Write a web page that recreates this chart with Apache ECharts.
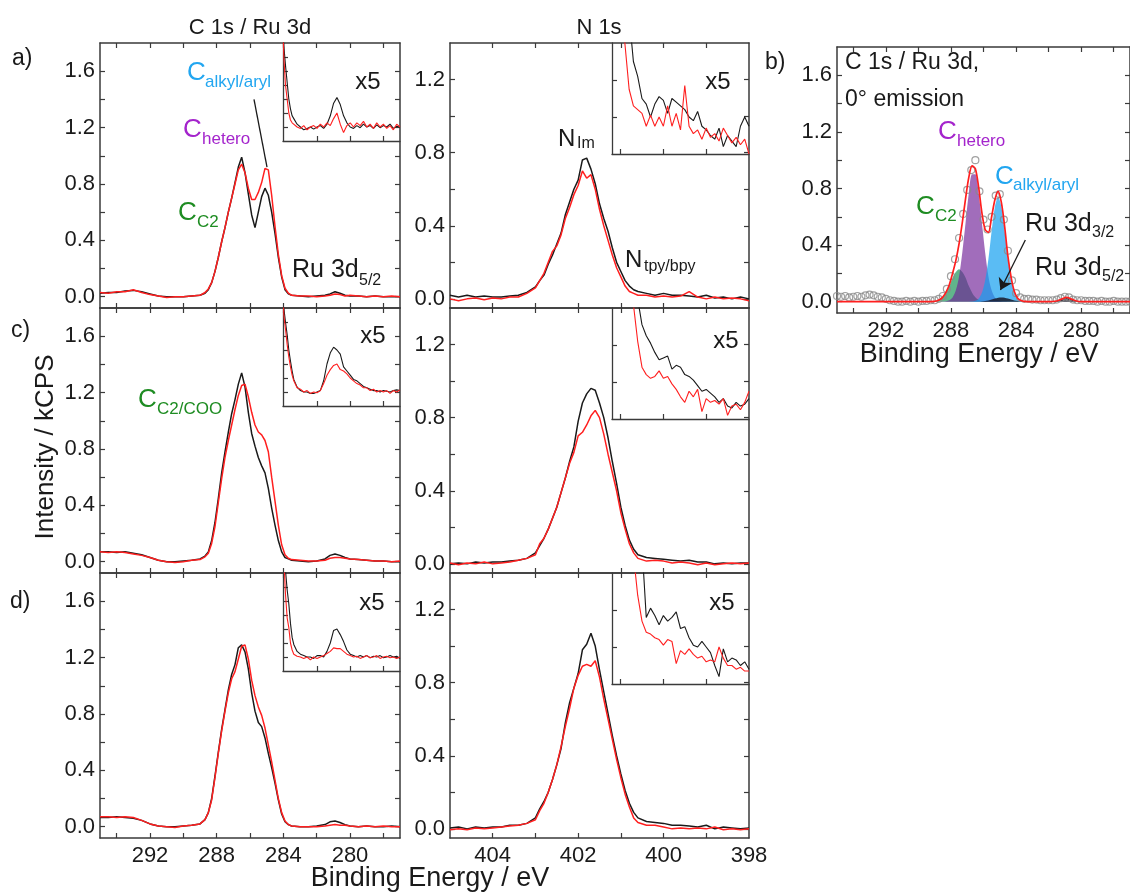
<!DOCTYPE html>
<html>
<head>
<meta charset="utf-8">
<title>XPS C 1s / N 1s</title>
<script src="https://cdn.jsdelivr.net/npm/echarts@6.0.0/dist/echarts.min.js"></script>
<style>
  html, body { margin: 0; padding: 0; background: #fff; }
  #chart { width: 1130px; height: 893px; }
</style>
</head>
<body>
<div id="chart"></div>
<script>
// binding energy grids (eV)
const cE = [295, 294.5, 294, 293.5, 293, 292.5, 292, 291.5, 291, 290.5, 290, 289.5, 289,
  288.9, 288.7, 288.5, 288.3, 288.1, 287.9, 287.7, 287.5, 287.3, 287.1, 286.9, 286.7, 286.5, 286.3,
  286.1, 285.9, 285.7, 285.5, 285.3, 285.1, 284.9, 284.7, 284.5, 284.3, 284.1, 283.9, 283.7, 283.5,
  283, 282.5, 282, 281.5, 281.2, 280.9, 280.6, 280.3, 280, 279.5, 279, 278.5, 278, 277.5, 277]
const nE = [405.0, 404.8, 404.6, 404.4, 404.2, 404.0, 403.8, 403.6, 403.4, 403.2,
  403.0, 402.9, 402.8, 402.7, 402.6, 402.5, 402.4, 402.3, 402.2, 402.1, 402.0, 401.9, 401.8, 401.7,
  401.6, 401.5, 401.4, 401.3, 401.2, 401.1, 401.0, 400.9, 400.8, 400.7, 400.6,
  400.4, 400.2, 400.0, 399.8, 399.6, 399.4, 399.2, 399.0, 398.8, 398.6, 398.4, 398.2, 398.0]
// inset grids (x5 zoom)
const ciE = [284.1, 284.0, 283.9, 283.8, 283.7, 283.6, 283.5, 283.4, 283.2, 283.0, 282.8, 282.6,
  282.4, 282.2, 282.0, 281.8, 281.6, 281.4, 281.2, 281.0, 280.8, 280.6, 280.4, 280.2, 280.0, 279.8,
  279.6, 279.4, 279.2, 279.0, 278.8, 278.6, 278.4, 278.2, 278.0, 277.8, 277.6, 277.4, 277.2, 277.0]
const niE = [401.2, 401.1, 401.0, 400.9, 400.8, 400.7, 400.6, 400.5, 400.4, 400.3, 400.2, 400.1,
  400.0, 399.9, 399.8, 399.7, 399.6, 399.5, 399.4, 399.3, 399.2, 399.1, 399.0, 398.9, 398.8, 398.7,
  398.6, 398.5, 398.4, 398.3, 398.2, 398.1, 398.0]

// C 1s / Ru 3d, kCPS
const aBlackC = [0.025, 0.03, 0.03, 0.04, 0.045, 0.035, 0.02, 0.005, 0.0, 0.0, 0.0, 0.005, 0.01,
  0.015, 0.025, 0.05, 0.10, 0.18, 0.28, 0.39, 0.49, 0.60, 0.70, 0.81, 0.92, 0.99, 0.88, 0.73, 0.58,
  0.49, 0.60, 0.71, 0.77, 0.72, 0.60, 0.45, 0.28, 0.14, 0.05, 0.02, 0.01,
  0.005, 0.0, 0.005, 0.01, 0.02, 0.035, 0.025, 0.01, 0.005, 0.005, 0.0, 0.005, 0.0, 0.0, 0.0]
const aRedC = [0.03, 0.025, 0.035, 0.035, 0.05, 0.03, 0.015, 0.005, -0.005, 0.0, 0.0, 0.005, 0.01,
  0.015, 0.03, 0.055, 0.10, 0.18, 0.28, 0.39, 0.49, 0.60, 0.70, 0.80, 0.90, 0.94, 0.88, 0.77, 0.69,
  0.69, 0.74, 0.81, 0.91, 0.90, 0.72, 0.50, 0.30, 0.15, 0.06, 0.025, 0.01,
  0.005, 0.005, 0.0, 0.005, 0.01, 0.02, 0.015, 0.005, 0.01, 0.005, 0.0, 0.005, 0.0, 0.005, 0.0]
const cBlackC = [0.07, 0.07, 0.065, 0.07, 0.06, 0.05, 0.03, 0.01, 0.0, 0.0, 0.005, 0.01, 0.02,
  0.025, 0.04, 0.07, 0.15, 0.28, 0.45, 0.63, 0.78, 0.92, 1.05, 1.15, 1.26, 1.34, 1.24, 1.06, 0.91,
  0.82, 0.74, 0.68, 0.63, 0.52, 0.38, 0.26, 0.15, 0.07, 0.03, 0.02, 0.01,
  0.005, 0.0, 0.005, 0.02, 0.045, 0.055, 0.045, 0.03, 0.02, 0.015, 0.01, 0.005, 0.005, 0.0, 0.0]
const cRedC = [0.07, 0.065, 0.07, 0.065, 0.055, 0.045, 0.03, 0.01, 0.0, -0.005, 0.0, 0.01, 0.015,
  0.02, 0.035, 0.06, 0.13, 0.25, 0.42, 0.59, 0.74, 0.86, 0.97, 1.08, 1.18, 1.25, 1.26, 1.17, 1.06,
  0.97, 0.92, 0.90, 0.86, 0.78, 0.60, 0.43, 0.26, 0.12, 0.05, 0.025, 0.015,
  0.01, 0.005, 0.005, 0.01, 0.025, 0.03, 0.03, 0.025, 0.02, 0.015, 0.01, 0.005, 0.005, 0.0, 0.005]
const dBlackC = [0.065, 0.065, 0.07, 0.065, 0.06, 0.045, 0.02, 0.005, 0.0, 0.0, 0.005, 0.01, 0.02,
  0.03, 0.05, 0.10, 0.20, 0.36, 0.53, 0.69, 0.83, 0.97, 1.08, 1.15, 1.27, 1.29, 1.24, 1.12, 0.95,
  0.82, 0.74, 0.71, 0.63, 0.52, 0.42, 0.31, 0.19, 0.09, 0.035, 0.015, 0.005,
  0.0, 0.0, 0.005, 0.015, 0.035, 0.04, 0.03, 0.015, 0.005, 0.0, 0.005, 0.0, 0.0, 0.005, 0.0]
const dRedC = [0.07, 0.07, 0.065, 0.07, 0.065, 0.045, 0.02, 0.005, 0.0, -0.005, 0.005, 0.01, 0.02,
  0.03, 0.05, 0.10, 0.19, 0.35, 0.52, 0.68, 0.82, 0.95, 1.05, 1.10, 1.19, 1.28, 1.29, 1.19, 1.04,
  0.93, 0.85, 0.79, 0.70, 0.58, 0.46, 0.33, 0.20, 0.10, 0.04, 0.015, 0.005,
  0.0, 0.0, 0.0, 0.005, 0.01, 0.015, 0.01, 0.01, 0.005, 0.0, 0.005, 0.0, 0.005, 0.0, 0.0]

// N 1s, kCPS
const aBlackN = [0.02, 0.01, 0.02, 0.01, 0.015, 0.01, 0.01, 0.015, 0.02, 0.035,
  0.065, 0.10, 0.13, 0.19, 0.24, 0.30, 0.36, 0.46, 0.53, 0.60, 0.65, 0.76, 0.77, 0.71, 0.63, 0.52,
  0.44, 0.37, 0.28, 0.20, 0.15, 0.10, 0.07, 0.05, 0.04,
  0.03, 0.02, 0.03, 0.02, 0.02, 0.015, 0.01, 0.02, 0.005, 0.01, 0.0, 0.01, 0.0]
const aRedN = [0.0, -0.01, 0.0, 0.005, -0.005, 0.005, 0.0, 0.01, 0.01, 0.03,
  0.06, 0.10, 0.14, 0.20, 0.26, 0.29, 0.35, 0.44, 0.50, 0.57, 0.62, 0.70, 0.66, 0.68, 0.60, 0.49,
  0.40, 0.32, 0.24, 0.17, 0.12, 0.07, 0.04, 0.03, 0.02,
  0.02, 0.01, 0.015, 0.01, 0.015, 0.04, 0.01, 0.0, 0.01, 0.0, 0.005, 0.0, -0.01]
const cBlackN = [0.0, 0.005, 0.0, 0.01, 0.005, 0.01, 0.01, 0.015, 0.02, 0.03,
  0.06, 0.10, 0.14, 0.19, 0.25, 0.31, 0.39, 0.47, 0.56, 0.64, 0.78, 0.88, 0.93, 0.96, 0.95, 0.88,
  0.80, 0.69, 0.56, 0.44, 0.31, 0.21, 0.13, 0.08, 0.05,
  0.035, 0.03, 0.025, 0.02, 0.015, 0.02, 0.01, 0.01, 0.0, 0.005, 0.0, 0.005, 0.005]
const cRedN = [0.005, -0.005, 0.005, 0.0, 0.01, 0.0, 0.005, 0.01, 0.02, 0.03,
  0.05, 0.11, 0.14, 0.19, 0.25, 0.31, 0.39, 0.47, 0.55, 0.61, 0.70, 0.72, 0.76, 0.81, 0.84, 0.80,
  0.71, 0.60, 0.50, 0.40, 0.28, 0.19, 0.11, 0.06, 0.03,
  0.015, 0.02, 0.015, 0.005, 0.01, 0.005, -0.005, 0.005, -0.005, 0.0, 0.005, 0.0, 0.005]
const dBlackN = [0.005, 0.01, 0.0, 0.01, 0.005, 0.01, 0.01, 0.02, 0.02, 0.03,
  0.06, 0.11, 0.15, 0.20, 0.27, 0.35, 0.44, 0.58, 0.69, 0.77, 0.85, 0.98, 1.01, 1.07, 1.00, 0.87,
  0.75, 0.63, 0.51, 0.40, 0.30, 0.21, 0.14, 0.09, 0.06,
  0.04, 0.035, 0.03, 0.02, 0.02, 0.015, 0.01, 0.02, 0.0, 0.01, 0.005, 0.0, 0.005]
const dRedN = [-0.005, 0.0, -0.005, 0.005, 0.0, 0.005, 0.01, 0.015, 0.02, 0.03,
  0.05, 0.10, 0.14, 0.20, 0.27, 0.35, 0.45, 0.56, 0.66, 0.77, 0.84, 0.89, 0.90, 0.89, 0.92, 0.83,
  0.71, 0.60, 0.49, 0.38, 0.28, 0.19, 0.12, 0.06, 0.035,
  0.02, 0.02, 0.01, 0.0, 0.005, 0.0, 0.005, 0.0, 0.01, -0.005, 0.0, -0.005, 0.0]

// insets, x5 units
const aBlackCi = [0.9, 0.58, 0.44, 0.32, 0.2, 0.13, 0.08, 0.06, 0.02, 0.0, -0.02, -0.01, 0.0, -0.015,
  0.0, 0.01, -0.01, 0.02, 0.08, 0.17, 0.21, 0.16, 0.08, 0.03, 0.0, -0.01, 0.01, -0.005, 0.02, 0.0,
  0.01, -0.01, 0.015, -0.005, 0.01, 0.0, 0.02, -0.01, 0.005, 0.0]
const aRedCi = [0.9, 0.5, 0.3, 0.2, 0.1, 0.05, 0.03, 0.02, 0.0, -0.01, 0.01, -0.02, 0.0, 0.01,
  -0.01, 0.02, 0.0, 0.03, 0.01, 0.06, 0.1, 0.02, -0.04, 0.01, 0.03, 0.0, 0.03, 0.01, 0.04, 0.0,
  0.02, -0.01, 0.03, 0.0, 0.02, -0.01, 0.01, -0.02, 0.02, 0.0]
const cBlackCi = [0.9, 0.6, 0.5, 0.41, 0.3, 0.22, 0.15, 0.09, 0.035, 0.01, 0.0, 0.0, -0.01, -0.01,
  0.0, 0.01, 0.08, 0.2, 0.28, 0.32, 0.3, 0.27, 0.18, 0.15, 0.12, 0.09, 0.08, 0.06, 0.04, 0.03,
  0.02, 0.01, 0.01, 0.0, 0.01, 0.005, 0.0, 0.01, 0.015, 0.01]
const cRedCi = [0.9, 0.55, 0.45, 0.34, 0.25, 0.18, 0.12, 0.08, 0.03, 0.02, 0.0, 0.01, -0.01, 0.0,
  -0.005, 0.01, 0.06, 0.12, 0.16, 0.19, 0.2, 0.16, 0.15, 0.13, 0.1, 0.08, 0.06, 0.05, 0.03, 0.03,
  0.01, 0.02, 0.0, 0.01, 0.0, 0.01, -0.01, 0.01, 0.0, 0.015]
const dBlackCi = [0.9, 0.8, 0.62, 0.48, 0.38, 0.24, 0.14, 0.09, 0.04, 0.02, 0.01, 0.0, 0.0, -0.01,
  0.01, 0.01, 0.0, 0.04, 0.1, 0.19, 0.2, 0.16, 0.11, 0.05, 0.02, 0.01, 0.0, 0.01, 0.0, 0.01,
  -0.005, 0.005, 0.0, 0.01, -0.005, 0.0, 0.01, 0.0, 0.005, -0.01]
const dRedCi = [0.9, 0.7, 0.45, 0.28, 0.21, 0.1, 0.05, 0.02, 0.005, 0.0, -0.01, 0.0, -0.02, 0.0,
  -0.01, 0.0, 0.01, 0.025, 0.04, 0.065, 0.06, 0.06, 0.04, 0.02, 0.01, 0.0, 0.005, -0.01, 0.0, 0.01,
  -0.005, 0.0, 0.01, -0.01, 0.0, 0.005, -0.005, 0.0, -0.01, 0.0]
const aBlackNi = [0.9, 0.9, 0.9, 0.9, 0.75, 0.5, 0.42, 0.3, 0.27, 0.2, 0.27, 0.31, 0.29, 0.22, 0.3,
  0.28, 0.26, 0.24, 0.2, 0.18, 0.23, 0.15, 0.13, 0.1, 0.08, 0.14, 0.04, 0.1, 0.07, 0.04, 0.15, 0.2, 0.15]
const aRedNi = [0.9, 0.9, 0.85, 0.6, 0.35, 0.26, 0.24, 0.22, 0.15, 0.21, 0.15, 0.2, 0.15, 0.26, 0.15,
  0.22, 0.13, 0.37, 0.15, 0.11, 0.13, 0.08, 0.14, 0.09, 0.11, 0.07, 0.14, 0.1, 0.06, 0.09, 0.05, 0.08, 0.0]
const cBlackNi = [0.9, 0.9, 0.9, 0.9, 0.9, 0.8, 0.65, 0.51, 0.45, 0.41, 0.36, 0.32, 0.33, 0.34, 0.27,
  0.29, 0.28, 0.24, 0.23, 0.21, 0.18, 0.15, 0.16, 0.14, 0.12, 0.09, 0.11, 0.07, 0.06, 0.09, 0.07, 0.08, 0.11]
const cRedNi = [0.9, 0.9, 0.9, 0.9, 0.75, 0.62, 0.42, 0.28, 0.24, 0.22, 0.23, 0.26, 0.22, 0.23, 0.19,
  0.16, 0.12, 0.09, 0.15, 0.12, 0.16, 0.04, 0.11, 0.09, 0.1, 0.08, 0.11, 0.02, 0.07, 0.08, 0.05, 0.09, 0.15]
const dBlackNi = [0.9, 0.9, 0.9, 0.9, 0.9, 0.9, 0.9, 0.75, 0.36, 0.41, 0.37, 0.32, 0.37, 0.34, 0.36,
  0.39, 0.30, 0.31, 0.25, 0.21, 0.2, 0.23, 0.2, 0.17, 0.1, 0.04, 0.19, 0.12, 0.14, 0.13, 0.1, 0.12, 0.08]
const dRedNi = [0.9, 0.9, 0.9, 0.9, 0.9, 0.7, 0.48, 0.34, 0.28, 0.27, 0.25, 0.24, 0.21, 0.24, 0.23,
  0.11, 0.18, 0.16, 0.19, 0.16, 0.14, 0.15, 0.12, 0.13, 0.12, 0.2, 0.14, 0.1, 0.1, 0.08, 0.09, 0.07, 0.07]

// panel b: 0 deg emission, fit components on cE
const bGreen = [0, 0, 0, 0, 0, 0, 0, 0, 0, 0, 0, 0, 0.002,
  0.005, 0.013, 0.031, 0.064, 0.11, 0.17, 0.21, 0.23, 0.21, 0.17, 0.11, 0.064, 0.031, 0.013, 0.005,
  0.001, 0, 0, 0, 0, 0, 0, 0, 0, 0, 0, 0, 0,
  0, 0, 0, 0, 0, 0, 0, 0, 0, 0, 0, 0, 0, 0, 0]
const bPurple = [0, 0, 0, 0, 0, 0, 0, 0, 0, 0, 0, 0, 0,
  0, 0, 0.001, 0.003, 0.01, 0.03, 0.08, 0.18, 0.35, 0.56, 0.77, 0.90, 0.90, 0.77, 0.56, 0.35,
  0.18, 0.08, 0.03, 0.01, 0.003, 0.001, 0, 0, 0, 0, 0, 0,
  0, 0, 0, 0, 0, 0, 0, 0, 0, 0, 0, 0, 0, 0, 0]
const bBlue = [0, 0, 0, 0, 0, 0, 0, 0, 0, 0, 0, 0, 0,
  0, 0, 0, 0, 0, 0, 0, 0, 0, 0, 0, 0.001, 0.006, 0.021, 0.063, 0.15,
  0.30, 0.50, 0.67, 0.74, 0.67, 0.50, 0.30, 0.15, 0.063, 0.021, 0.006, 0.001,
  0, 0, 0, 0, 0, 0, 0, 0, 0, 0, 0, 0, 0, 0, 0]
const bRu3d = [0, 0, 0, 0, 0, 0, 0, 0, 0, 0, 0, 0, 0,
  0, 0, 0, 0, 0, 0, 0, 0, 0, 0, 0, 0, 0, 0, 0.002, 0.004,
  0.008, 0.015, 0.022, 0.028, 0.03, 0.028, 0.022, 0.015, 0.008, 0.004, 0.002, 0.001,
  0, 0, 0, 0.005, 0.018, 0.03, 0.018, 0.005, 0, 0, 0, 0, 0, 0, 0]
const bFit = [0, 0, 0, 0, 0, 0, 0, 0, 0, 0, 0, 0, 0.002,
  0.005, 0.013, 0.032, 0.067, 0.12, 0.20, 0.29, 0.41, 0.56, 0.73, 0.88, 0.96, 0.94, 0.81, 0.63, 0.51,
  0.49, 0.60, 0.72, 0.78, 0.70, 0.53, 0.32, 0.17, 0.07, 0.025, 0.008, 0.002,
  0, 0, 0, 0.005, 0.018, 0.03, 0.018, 0.005, 0, 0, 0, 0, 0, 0, 0]
const bE = [295, 294.75, 294.5, 294.25, 294, 293.75, 293.5, 293.25, 293, 292.75, 292.5, 292.25, 292,
  291.75, 291.5, 291.25, 291, 290.75, 290.5, 290.25, 290, 289.75, 289.5, 289.25, 289, 288.75, 288.5,
  288.25, 288, 287.75, 287.5, 287.25, 287, 286.75, 286.5, 286.25, 286, 285.75, 285.5, 285.25, 285,
  284.75, 284.5, 284.25, 284, 283.75, 283.5, 283.25, 283, 282.75, 282.5, 282.25, 282, 281.75, 281.5,
  281.25, 281, 280.75, 280.5, 280.25, 280, 279.75, 279.5, 279.25, 279, 278.75, 278.5, 278.25, 278,
  277.75, 277.5, 277.25, 277]
const bData = [0.04, 0.035, 0.04, 0.03, 0.035, 0.04, 0.035, 0.045, 0.05, 0.045, 0.035, 0.03, 0.02,
  0.01, 0.005, 0.0, 0.0, 0.005, 0.0, 0.005, 0.0, 0.005, 0.005, 0.01, 0.01, 0.02, 0.04,
  0.09, 0.18, 0.3, 0.45, 0.62, 0.79, 0.93, 1.0, 0.78, 0.58, 0.51, 0.6, 0.75, 0.76,
  0.58, 0.36, 0.15, 0.06, 0.03, 0.02, 0.02, 0.015, 0.015, 0.01, 0.01, 0.01, 0.01, 0.015,
  0.025, 0.035, 0.03, 0.015, 0.01, 0.01, 0.005, 0.005, 0.005, 0.0, 0.005, 0.0, 0.0, 0.005,
  0.0, 0.0, 0.0, 0.0]

// annotation lines [E, kCPS]
const calkylPointer = [[285.76, 1.40], [284.98, 0.92]]
const ruArrow = [[283.43, 0.436], [284.96, 0.083]]

// ticks / labels
const cTicks = [294, 292, 290, 288, 286, 284, 282, 280, 278]
const cLabels = [292, 288, 284, 280]
const nTicks = [404, 403, 402, 401, 400, 399]
const nLabels = [404, 402, 400, 398]
const cYTicks = [0, 0.2, 0.4, 0.6, 0.8, 1.0, 1.2, 1.4, 1.6]
const cYLabels = [0, 0.4, 0.8, 1.2, 1.6]
const nYTicks = [0, 0.2, 0.4, 0.6, 0.8, 1.0, 1.2]
const nYLabels = [0, 0.4, 0.8, 1.2]

const FONT = '"Liberation Sans", Arial, sans-serif'
const TEXT = '#1a1a1a'
const AXIS = '#3a3a3a'
const BLACK = '#1a1a1a'
const RED = '#ff1f1f'
const C_BLUE = '#22a6f0'
const C_PURPLE = '#a424cc'
const C_GREEN = '#1e8c22'

const SCALE = {
  C: { xMin: 277, xMax: 295, xTicks: cTicks, xLabels: cLabels, yMin: -0.08, yMax: 1.8, yTicks: cYTicks, yLabels: cYLabels },
  N: { xMin: 398, xMax: 405, xTicks: nTicks, xLabels: nLabels, yMin: -0.05, yMax: 1.4, yTicks: nYTicks, yLabels: nYLabels },
  CI: { xMin: 277, xMax: 284.05, xTicks: [282, 280, 278], yMin: -0.1, yMax: 0.6, yTicks: [0, 0.1, 0.2, 0.3, 0.4, 0.5] },
  NI: { xMin: 398, xMax: 401.2, xTicks: [401, 400, 399], yMin: 0, yMax: 0.6, yTicks: [0.2, 0.4] }
}

const grids = []
const xAxes = []
const yAxes = []
const series = []

const pair = (xs, ys) => xs.map((x, i) => [x, ys[i]])

function xAxisDef (gi, s, pos, showLabel) {
  return {
    type: 'value', gridIndex: gi, position: pos, inverse: true, min: s.xMin, max: s.xMax,
    axisLine: { show: true, onZero: false, lineStyle: { color: AXIS, width: 1.5 } },
    axisTick: { show: true, inside: true, length: 5, customValues: s.xTicks, lineStyle: { color: AXIS, width: 1.2 } },
    axisLabel: { show: showLabel, customValues: s.xLabels, fontSize: 22, color: TEXT, fontFamily: FONT, margin: 7 },
    splitLine: { show: false }
  }
}

function yAxisDef (gi, s, pos, showLabel) {
  return {
    type: 'value', gridIndex: gi, position: pos, min: s.yMin, max: s.yMax,
    axisLine: { show: true, onZero: false, lineStyle: { color: AXIS, width: 1.5 } },
    axisTick: { show: true, inside: true, length: 5, customValues: s.yTicks, lineStyle: { color: AXIS, width: 1.2 } },
    axisLabel: { show: showLabel, customValues: s.yLabels, formatter: v => v.toFixed(1), fontSize: 22, color: TEXT, fontFamily: FONT, margin: 5 },
    splitLine: { show: false }
  }
}

// main panel: box with ticks on all four sides
function mainPanel (box, kind, showX) {
  grids.push(box)
  const gi = grids.length - 1
  const s = SCALE[kind]
  const xi = xAxes.length
  xAxes.push(xAxisDef(gi, s, 'bottom', showX), xAxisDef(gi, s, 'top', false))
  const yi = yAxes.length
  yAxes.push(yAxisDef(gi, s, 'left', true), yAxisDef(gi, s, 'right', false))
  return { xi, yi }
}

// inset: only left + bottom lines, top/right are the main box
function insetPanel (box, kind) {
  grids.push(box)
  const gi = grids.length - 1
  const s = SCALE[kind]
  const xi = xAxes.length
  const x = xAxisDef(gi, s, 'bottom', false)
  x.axisLine.lineStyle.width = 1.3
  xAxes.push(x)
  const yi = yAxes.length
  const y = yAxisDef(gi, s, 'left', false)
  y.axisLine.lineStyle.width = 1.3
  yAxes.push(y)
  return { xi, yi }
}

function curve (ax, xs, ys, color, width, extra) {
  series.push(Object.assign({
    type: 'line', xAxisIndex: ax.xi, yAxisIndex: ax.yi, data: pair(xs, ys),
    showSymbol: false, symbol: 'none', silent: true,
    lineStyle: { color, width }, itemStyle: { color }, z: 3
  }, extra || {}))
}

const ROWS = [43, 308, 573]
const PH = 265

const aC = mainPanel({ left: 100, top: ROWS[0], width: 300, height: PH }, 'C', false)
const aN = mainPanel({ left: 450, top: ROWS[0], width: 299, height: PH }, 'N', false)
const cC = mainPanel({ left: 100, top: ROWS[1], width: 300, height: PH }, 'C', false)
const cN = mainPanel({ left: 450, top: ROWS[1], width: 299, height: PH }, 'N', false)
const dC = mainPanel({ left: 100, top: ROWS[2], width: 300, height: PH }, 'C', true)
const dN = mainPanel({ left: 450, top: ROWS[2], width: 299, height: PH }, 'N', true)
const aCi = insetPanel({ left: 283, top: ROWS[0], width: 117, height: 98 }, 'CI')
const aNi = insetPanel({ left: 612, top: ROWS[0], width: 137, height: 111 }, 'NI')
const cCi = insetPanel({ left: 283, top: ROWS[1], width: 117, height: 98 }, 'CI')
const cNi = insetPanel({ left: 612, top: ROWS[1], width: 137, height: 111 }, 'NI')
const dCi = insetPanel({ left: 283, top: ROWS[2], width: 117, height: 98 }, 'CI')
const dNi = insetPanel({ left: 612, top: ROWS[2], width: 137, height: 111 }, 'NI')
const bP = mainPanel({ left: 837, top: 47, width: 305, height: 266 }, 'C', true)

const pointerLine = (pts, arrow) => ({
  silent: true, animation: false,
  symbol: ['none', arrow ? 'arrow' : 'none'], symbolSize: arrow ? 11 : 0,
  label: { show: false },
  lineStyle: { color: BLACK, width: 1.3, type: 'solid' },
  data: [[{ coord: pts[0] }, { coord: pts[1] }]]
})

curve(aC, cE, aBlackC, BLACK, 1.5, { markLine: pointerLine(calkylPointer, false) })
curve(aC, cE, aRedC, RED, 1.5)
curve(cC, cE, cBlackC, BLACK, 1.5)
curve(cC, cE, cRedC, RED, 1.5)
curve(dC, cE, dBlackC, BLACK, 1.5)
curve(dC, cE, dRedC, RED, 1.5)
curve(aN, nE, aBlackN, BLACK, 1.5)
curve(aN, nE, aRedN, RED, 1.5)
curve(cN, nE, cBlackN, BLACK, 1.5)
curve(cN, nE, cRedN, RED, 1.5)
curve(dN, nE, dBlackN, BLACK, 1.5)
curve(dN, nE, dRedN, RED, 1.5)

curve(aCi, ciE, aBlackCi, BLACK, 1.1)
curve(aCi, ciE, aRedCi, RED, 1.1)
curve(cCi, ciE, cBlackCi, BLACK, 1.1)
curve(cCi, ciE, cRedCi, RED, 1.1)
curve(dCi, ciE, dBlackCi, BLACK, 1.1)
curve(dCi, ciE, dRedCi, RED, 1.1)
curve(aNi, niE, aBlackNi, BLACK, 1.1)
curve(aNi, niE, aRedNi, RED, 1.1)
curve(cNi, niE, cBlackNi, BLACK, 1.1)
curve(cNi, niE, cRedNi, RED, 1.1)
curve(dNi, niE, dBlackNi, BLACK, 1.1)
curve(dNi, niE, dRedNi, RED, 1.1)

// panel b fit components
const area = (ys, fill) => curve(bP, cE, ys, fill, 0, { smooth: 0.3, areaStyle: { color: fill, opacity: 1 }, z: 2 })
area(bGreen, 'rgba(30,150,90,0.7)')
area(bPurple, 'rgba(110,30,150,0.65)')
area(bBlue, 'rgba(20,160,240,0.7)')
area(bRu3d, 'rgba(25,25,40,0.85)')
series.push({
  type: 'scatter', xAxisIndex: bP.xi, yAxisIndex: bP.yi, data: pair(bE, bData),
  symbol: 'circle', symbolSize: 7, silent: true, z: 3,
  itemStyle: { color: 'rgba(0,0,0,0)', borderColor: '#8a8a8a', borderWidth: 1.2 },
  markLine: pointerLine(ruArrow, true)
})
curve(bP, cE, bFit, RED, 1.7, { smooth: 0.3, z: 4 })

// text
function txt (x, y, text, size, color, align, extra) {
  return Object.assign({
    type: 'text', x, y, z: 100, silent: true,
    style: { text, font: size + 'px ' + FONT, fill: color || TEXT, textAlign: align || 'left', textVerticalAlign: 'middle' }
  }, extra || {})
}

const texts = [
  txt(250, 28, 'C 1s / Ru 3d', 22, TEXT, 'center'),
  txt(599, 28, 'N 1s', 22, TEXT, 'center'),
  txt(12, 59, 'a)', 23), txt(765, 63, 'b)', 23), txt(11, 331, 'c)', 23), txt(10, 602, 'd)', 23),
  txt(368, 82, 'x5', 24, TEXT, 'center'), txt(718, 82, 'x5', 24, TEXT, 'center'),
  txt(373, 336, 'x5', 24, TEXT, 'center'), txt(726, 341, 'x5', 24, TEXT, 'center'),
  txt(372, 603, 'x5', 24, TEXT, 'center'), txt(722, 603, 'x5', 24, TEXT, 'center'),
  txt(292, 270, 'Ru 3d', 25), txt(359, 281, '5/2', 16),
  txt(187, 73, 'C', 26, C_BLUE), txt(205, 82, 'alkyl/aryl', 17, C_BLUE),
  txt(183, 130, 'C', 26, C_PURPLE), txt(202, 139, 'hetero', 17, C_PURPLE),
  txt(178, 213, 'C', 26, C_GREEN), txt(197, 222, 'C2', 17, C_GREEN),
  txt(558, 139, 'N', 24), txt(577, 144, 'Im', 16),
  txt(625, 260, 'N', 24), txt(644, 267, 'tpy/bpy', 16),
  txt(138, 400, 'C', 26, C_GREEN), txt(157, 409, 'C2/COO', 17, C_GREEN),
  txt(845, 63, 'C 1s / Ru 3d,', 23), txt(845, 100, '0° emission', 23),
  txt(938, 132, 'C', 26, C_PURPLE), txt(957, 141, 'hetero', 17, C_PURPLE),
  txt(995, 177, 'C', 26, C_BLUE), txt(1013, 185, 'alkyl/aryl', 17, C_BLUE),
  txt(916, 207, 'C', 26, C_GREEN), txt(935, 216, 'C2', 17, C_GREEN),
  txt(1025, 224, 'Ru 3d', 25), txt(1092, 233, '3/2', 16),
  txt(1035, 268, 'Ru 3d', 25), txt(1102, 277, '5/2', 16),
  txt(979, 355, 'Binding Energy / eV', 27, TEXT, 'center'),
  txt(430, 879, 'Binding Energy / eV', 27, TEXT, 'center'),
  txt(46, 447, 'Intensity / kCPS', 26, TEXT, 'center', { rotation: Math.PI / 2 })
]

const chart = echarts.init(document.getElementById('chart'))
chart.setOption({
  animation: false,
  backgroundColor: '#fff',
  textStyle: { fontFamily: FONT },
  grid: grids,
  xAxis: xAxes,
  yAxis: yAxes,
  series,
  graphic: { elements: texts }
})
</script>
</body>
</html>
